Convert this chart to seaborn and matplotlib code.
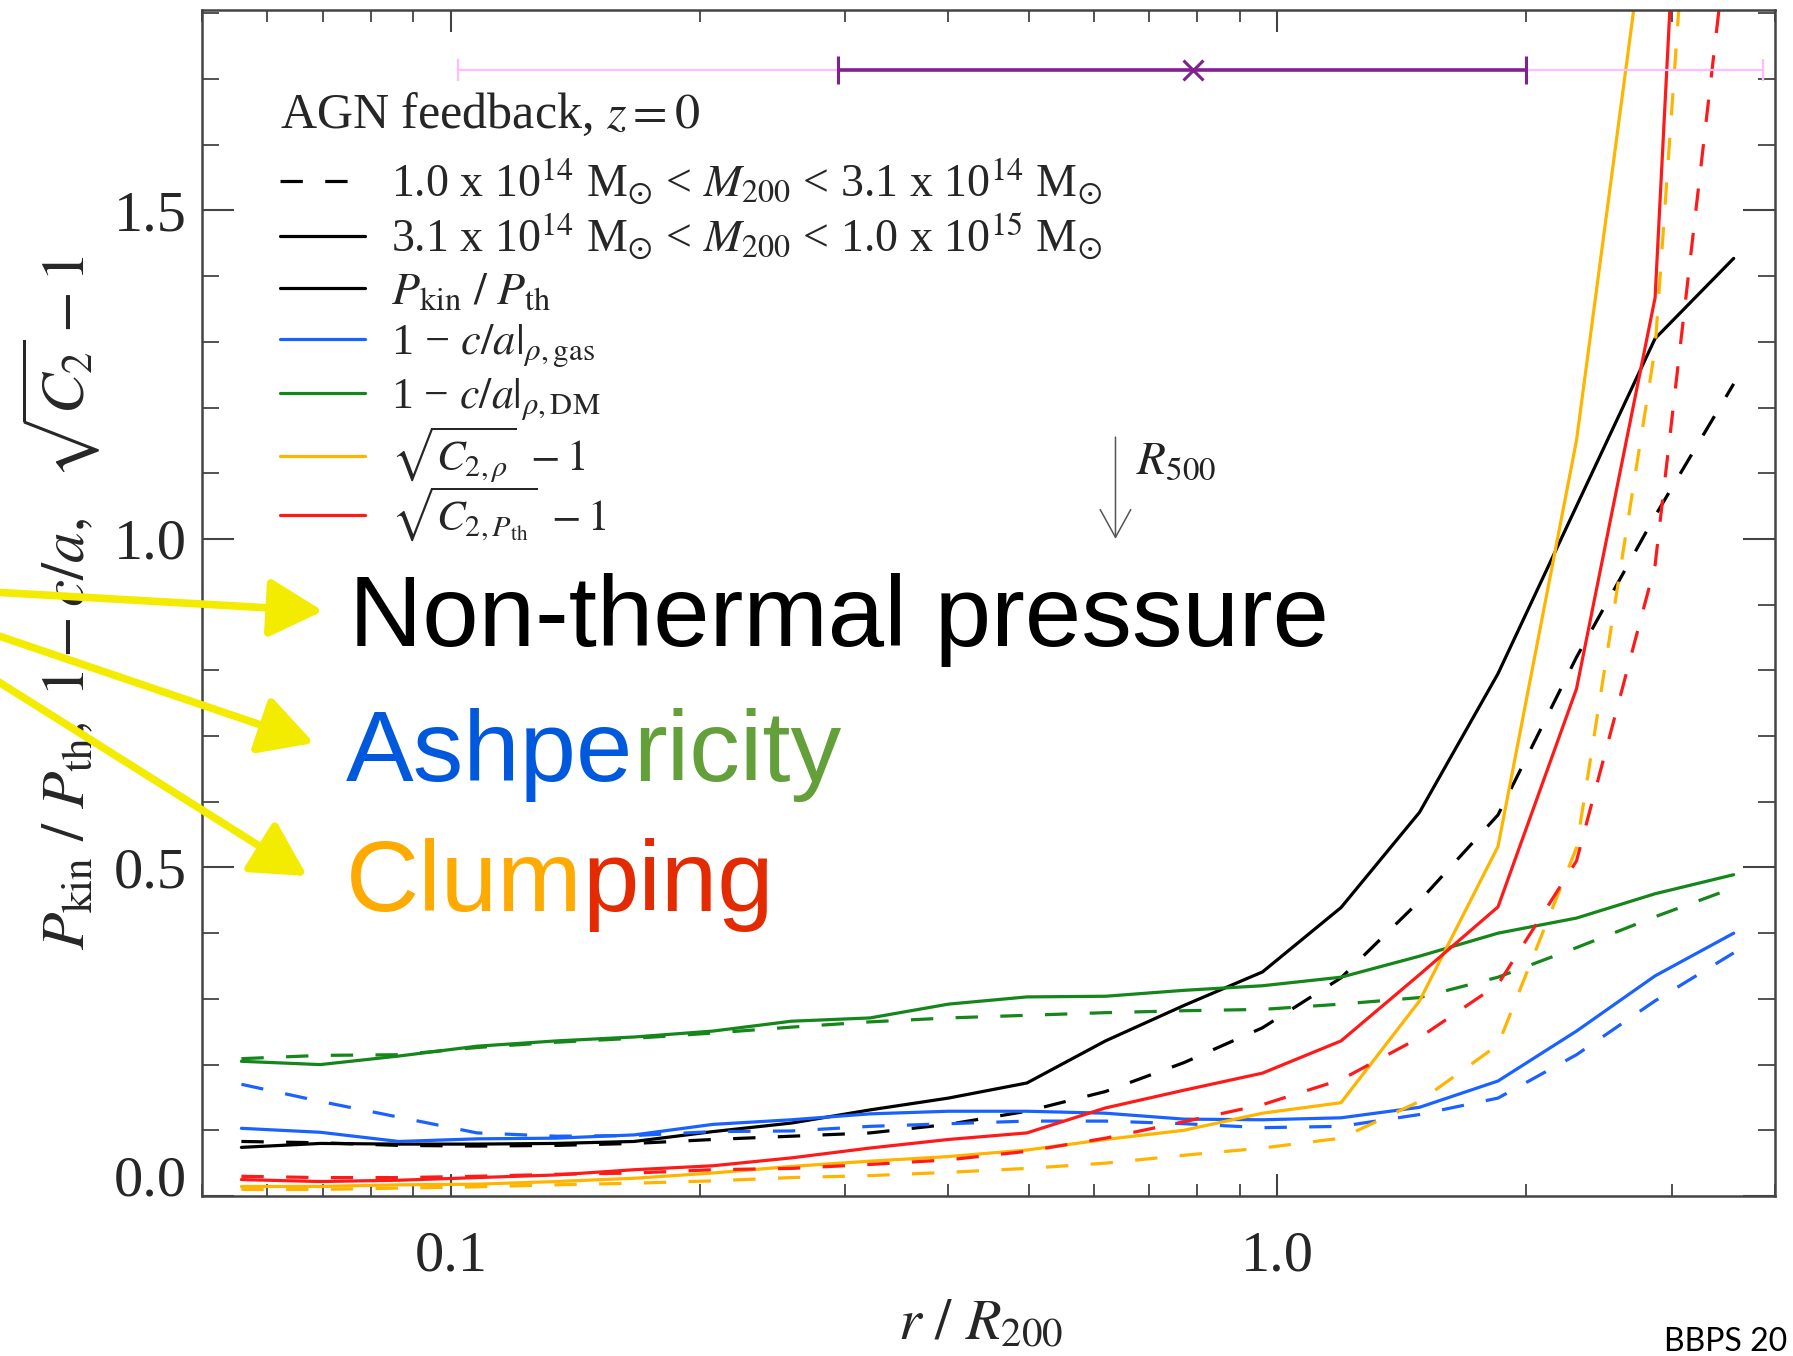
import numpy as np
import pandas as pd
import matplotlib
matplotlib.use("Agg")
import matplotlib.pyplot as plt
import seaborn as sns
from matplotlib.lines import Line2D
from matplotlib.legend import Legend
from matplotlib.patches import FancyArrowPatch
from matplotlib.ticker import FixedLocator, FixedFormatter, LogLocator, NullFormatter, MultipleLocator

# ---------------- data ----------------
r = [0.0558, 0.0695, 0.0865, 0.1076, 0.134, 0.1667, 0.2075, 0.2582, 0.3214, 0.3999,
     0.4977, 0.6194, 0.7709, 0.9594, 1.194, 1.486, 1.849, 2.301, 2.864, 3.565]

pkin_high = [0.074, 0.080, 0.079, 0.079, 0.080, 0.083, 0.098, 0.111, 0.131, 0.149,
             0.172, 0.236, 0.290, 0.341, 0.439, 0.584, 0.795, 1.050, 1.305, 1.427]
pkin_low = [0.083, 0.081, 0.077, 0.076, 0.077, 0.080, 0.086, 0.091, 0.096, 0.109,
            0.129, 0.159, 0.203, 0.256, 0.332, 0.449, 0.580, 0.820, 1.035, 1.236]
cagas_high = [0.103, 0.097, 0.083, 0.087, 0.088, 0.093, 0.109, 0.116, 0.125, 0.129,
              0.129, 0.126, 0.117, 0.116, 0.119, 0.135, 0.175, 0.251, 0.335, 0.400]
cagas_low = [0.170, 0.144, 0.120, 0.096, 0.091, 0.092, 0.098, 0.099, 0.106, 0.110,
             0.114, 0.114, 0.110, 0.104, 0.106, 0.124, 0.149, 0.215, 0.297, 0.370]
cadm_high = [0.205, 0.200, 0.213, 0.228, 0.236, 0.242, 0.251, 0.266, 0.271, 0.292,
             0.303, 0.304, 0.313, 0.320, 0.333, 0.365, 0.400, 0.423, 0.460, 0.489]
cadm_low = [0.209, 0.214, 0.215, 0.226, 0.234, 0.240, 0.248, 0.257, 0.265, 0.271,
            0.275, 0.279, 0.282, 0.284, 0.292, 0.302, 0.333, 0.378, 0.425, 0.469]
c2rho_high = [0.0145, 0.0145, 0.017, 0.018, 0.022, 0.027, 0.035, 0.045, 0.053, 0.060,
              0.070, 0.086, 0.100, 0.126, 0.142, 0.297, 0.532, 1.150, 2.050, 3.500]
c2rho_low = [0.010, 0.010, 0.012, 0.014, 0.017, 0.0195, 0.023, 0.028, 0.031, 0.036,
             0.042, 0.050, 0.062, 0.073, 0.088, 0.144, 0.230, 0.530, 1.290, 3.000]
c2p_high = [0.025, 0.022, 0.024, 0.028, 0.032, 0.040, 0.046, 0.058, 0.073, 0.086,
            0.096, 0.134, 0.161, 0.187, 0.236, 0.337, 0.440, 0.772, 1.367, 3.700]
c2p_low = [0.030, 0.028, 0.028, 0.030, 0.033, 0.035, 0.040, 0.042, 0.048, 0.055,
           0.068, 0.088, 0.113, 0.139, 0.177, 0.241, 0.322, 0.510, 0.960, 2.000]

quantities = ["pkin", "ca_gas", "ca_dm", "c2_rho", "c2_pth"]
series = {
    ("pkin", "high"): pkin_high, ("pkin", "low"): pkin_low,
    ("ca_gas", "high"): cagas_high, ("ca_gas", "low"): cagas_low,
    ("ca_dm", "high"): cadm_high, ("ca_dm", "low"): cadm_low,
    ("c2_rho", "high"): c2rho_high, ("c2_rho", "low"): c2rho_low,
    ("c2_pth", "high"): c2p_high, ("c2_pth", "low"): c2p_low,
}

# top error bar (R200 scatter)
err_y = 1.713
err_center = 0.79
err_inner = [0.294, 2.0]
err_outer = [0.102, 3.87]
r500_x = 0.637

x_ticks = [0.1, 1.0]
x_ticklabels = ["0.1", "1.0"]
y_ticks = [0.0, 0.5, 1.0, 1.5]
y_ticklabels = ["0.0", "0.5", "1.0", "1.5"]

colors = {"pkin": "#000000", "ca_gas": "#1a62ff", "ca_dm": "#14861a",
          "c2_rho": "#ffb400", "c2_pth": "#ff1a1a"}

rows = []
for (q, m), vals in series.items():
    for xv, yv in zip(r, vals):
        rows.append({"r": xv, "value": yv, "quantity": q, "mass": m})
df = pd.DataFrame(rows)

# ---------------- figure ----------------
sns.set_style("white")
plt.rcParams["font.family"] = ["Liberation Serif", "DejaVu Serif"]
plt.rcParams["mathtext.fontset"] = "stix"

W, H = 1793, 1356
fig = plt.figure(figsize=(W / 100, H / 100), dpi=100)
ax = fig.add_axes([202 / W, 1 - 1196 / H, (1775 - 202) / W, (1196 - 10) / H])

def fpx(x, y):
    return (x / W, 1 - y / H)

LW = 2.3
DASH = (7, 7)
sns.lineplot(data=df, x="r", y="value", hue="quantity", style="mass",
             hue_order=quantities, style_order=["high", "low"],
             palette=colors, dashes={"high": "", "low": DASH},
             linewidth=LW, estimator=None, sort=False, legend=False, ax=ax)

# top error bars
ax.errorbar([err_center], [err_y],
            xerr=[[err_center - err_outer[0]], [err_outer[1] - err_center]],
            fmt="none", ecolor="#ffbcff", elinewidth=1.6, capsize=8, capthick=1.6, zorder=3)
ax.errorbar([err_center], [err_y],
            xerr=[[err_center - err_inner[0]], [err_inner[1] - err_center]],
            fmt="x", color="#82208f", ms=15, mew=2.2, elinewidth=2.6, capsize=10,
            capthick=2.6, zorder=4)

# R500 arrow
ax.annotate("", xy=(r500_x, 1.0), xytext=(r500_x, 1.155),
            arrowprops=dict(arrowstyle="->,head_length=0.4,head_width=0.22",
                            color="#555555", lw=1.1, mutation_scale=50,
                            shrinkA=0, shrinkB=0))
ax.text(0.675, 1.116, r"$R_{500}$", fontsize=34, va="center", ha="left", color="#222222")

ax.set_xscale("log")
ax.set_xlim(0.05, 4.0)
ax.set_ylim(0.0, 1.805)

ax.xaxis.set_major_locator(FixedLocator(x_ticks))
ax.xaxis.set_major_formatter(FixedFormatter(x_ticklabels))
ax.xaxis.set_minor_locator(LogLocator(base=10, subs=np.arange(2, 10)))
ax.xaxis.set_minor_formatter(NullFormatter())
ax.yaxis.set_major_locator(FixedLocator(y_ticks))
ax.yaxis.set_major_formatter(FixedFormatter(y_ticklabels))
ax.yaxis.set_minor_locator(MultipleLocator(0.1))

ax.tick_params(axis="x", which="major", direction="in", length=16, width=1.5,
               top=True, bottom=True, labelsize=42, pad=25, color="#444444")
ax.tick_params(axis="x", which="minor", direction="in", length=8.5, width=1.3,
               top=True, bottom=True, color="#444444")
ax.tick_params(axis="y", which="major", direction="in", length=23, width=1.5,
               left=True, right=True, labelsize=42, pad=11, color="#444444")
ax.tick_params(axis="y", which="minor", direction="in", length=12, width=1.3,
               left=True, right=True, color="#444444")
for s in ax.spines.values():
    s.set_color("#444444")
    s.set_linewidth(1.8)
# the "0.0" label sits on its baseline, as in the reference
ax.yaxis.get_major_ticks()[0].label1.set_va("baseline")

ax.set_xlabel(r"$r\ /\ R_{200}$", fontsize=42)
ax.xaxis.set_label_coords(0.495, -0.087)
ax.set_ylabel(r"$P_{\rm kin}\ /\ P_{\rm th},\ 1 - c/a,\ \ \sqrt{C_2} - 1$", fontsize=44)
ax.yaxis.set_label_coords(-0.063, 0.5)

# legend (one row per Legend so each row sits where it does in the reference)
handles = [
    Line2D([], [], color="black", lw=LW, dashes=DASH),
    Line2D([], [], color="black", lw=LW),
    Line2D([], [], color=colors["pkin"], lw=LW),
    Line2D([], [], color=colors["ca_gas"], lw=LW),
    Line2D([], [], color=colors["ca_dm"], lw=LW),
    Line2D([], [], color=colors["c2_rho"], lw=LW),
    Line2D([], [], color=colors["c2_pth"], lw=LW),
]
labels = [
    r"1.0 x 10$^{14}$ M$_{\odot}$ < $M_{200}$ < 3.1 x 10$^{14}$ M$_{\odot}$",
    r"3.1 x 10$^{14}$ M$_{\odot}$ < $M_{200}$ < 1.0 x 10$^{15}$ M$_{\odot}$",
    r"$P_{\rm kin}\ /\ P_{\rm th}$",
    "1 \u2212 " + r"$c/a|_{\rho,{\rm gas}}$",
    "1 \u2212 " + r"$c/a|_{\rho,{\rm DM}}$",
    r"$\sqrt{C_{2,\rho}}\ - 1$",
    r"$\sqrt{C_{2,P_{\rm th}}}\ - 1$",
]
row_fs = [33, 33, 33, 32, 31.5, 31, 31]
row_y = [180.5, 235.5, 288, 339, 393, 456, 515]
legs = []
for h, lab, yy, fs in zip(handles, labels, row_y, row_fs):
    lg = Legend(ax, [h], [lab], loc="center left", bbox_to_anchor=fpx(280, yy),
                bbox_transform=fig.transFigure, frameon=False, fontsize=fs,
                borderpad=0, borderaxespad=0, handlelength=1.85 * 33 / fs,
                handletextpad=0.58 * 33 / fs)
    ax.add_artist(lg)
    legs.append(lg)
fig.text(*fpx(280, 128), r"AGN feedback, $z = 0$", fontsize=36, ha="left",
         va="baseline")

# annotation words
sans = ["Liberation Sans", "DejaVu Sans"]
fig.text(*fpx(349, 646), "Non-thermal pressure", fontsize=73, family=sans,
         color="black", ha="left", va="baseline")
t1 = fig.text(*fpx(346, 781), "Ashpe", fontsize=73, family=sans, color="#0058dc",
              ha="left", va="baseline")
ax.annotate("ricity", xy=(1, 0), xycoords=t1, va="bottom", ha="left", fontsize=73,
            family=sans, color="#64a03a")
t2 = fig.text(*fpx(346, 911), "Clum", fontsize=73, family=sans, color="#ffaa00",
              ha="left", va="baseline")
ax.annotate("ping", xy=(1, 0), xycoords=t2, va="bottom", ha="left", fontsize=73,
            family=sans, color="#e42a00")

# yellow arrows
arrows = [((-60, 589), (323, 611)), ((-60, 616), (314, 743)), ((-60, 645), (307, 876))]
for (x0, y0), (x1, y1) in arrows:
    fig.add_artist(FancyArrowPatch(fpx(x0, y0), fpx(x1, y1), transform=fig.transFigure,
                                   arrowstyle="-|>,head_length=33,head_width=18",
                                   lw=5.5, color="#f4ec00", shrinkA=0, shrinkB=0,
                                   zorder=10))

fig.text(*fpx(1664, 1351), "BBPS 20", fontsize=23, family=["Lato", "DejaVu Sans"],
         color="black", ha="left", va="baseline")

# align each legend row's key with the reference position
fig.canvas.draw()
renderer = fig.canvas.get_renderer()
for lg, yy in zip(legs, row_y):
    bb = lg.legend_handles[0].get_window_extent(renderer)
    cy = 0.5 * (bb.y0 + bb.y1)
    target = H - yy
    new_y = (H - yy) + (target - cy)
    lg.set_bbox_to_anchor((280 / W, new_y / H), transform=fig.transFigure)

fig.savefig("out.png", dpi=100)
